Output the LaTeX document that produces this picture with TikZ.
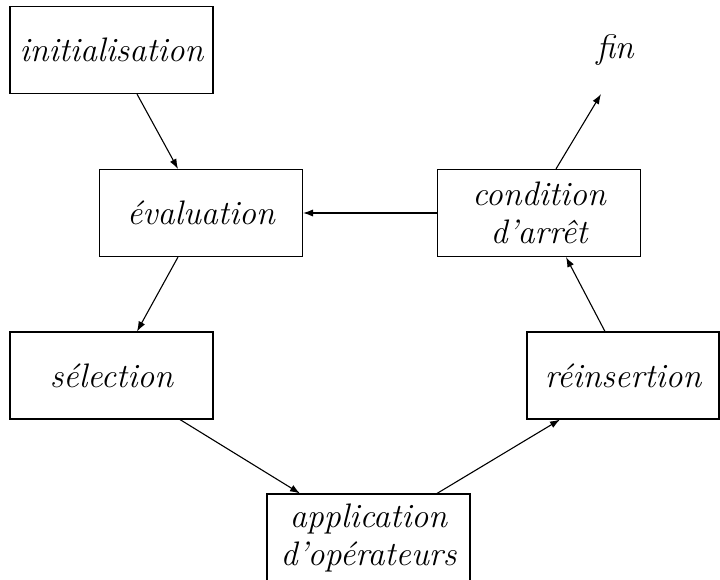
\documentclass[tikz,border=0pt]{standalone}
\usepackage{amsmath,amssymb}
\usepackage{tikz}
\usetikzlibrary{arrows.meta}

\tikzset{
  etape/.style={draw, line width=0.55pt, inner sep=0pt, align=center,
    minimum width=101.5pt, minimum height=43.5pt,
    font=\itshape\fontsize{17}{19}\selectfont},
  fleche/.style={line width=0.55pt, -{Latex[length=5pt,width=3.6pt]}}
}

\begin{document}
\begin{tikzpicture}[x=0.5pt,y=-0.5pt]
        \clip (0,0) rectangle (720,580);
        \node[etape] (init) at (111.5,50) {initialisation};
        \node[etape] (eval) at (201,213) {\'evaluation};
        \node[etape] (cond) at (539,213) {condition\\d'arr\^et};
        \node[etape] (sel) at (111.5,375.5) {s\'election};
        \node[etape,minimum width=96pt] (reins) at (623,375.5) {r\'einsertion};
        \node[etape] (app) at (368.5,537.5) {application\\d'op\'erateurs};
        \node[etape,draw=none] (fin) at (615,50) {fin};
        \draw[fleche] ([xshift=12.75pt]init.south) -- ([xshift=-11.5pt]eval.north);
        \draw[fleche] ([xshift=-11.5pt]eval.south) -- ([xshift=12.75pt]sel.north);
        \draw[fleche] ([xshift=34.25pt]sel.south) -- ([xshift=-34.25pt]app.north);
        \draw[fleche] ([xshift=34.25pt]app.north) -- ([xshift=-31.5pt]reins.south);
        \draw[fleche] ([xshift=-9pt]reins.north) -- ([xshift=13.5pt]cond.south);
        \draw[fleche] (cond.west) -- (eval.east);
        \draw[fleche] ([xshift=8.5pt]cond.north) -- ([xshift=-7pt]fin.south);
      \end{tikzpicture}
\end{document}
